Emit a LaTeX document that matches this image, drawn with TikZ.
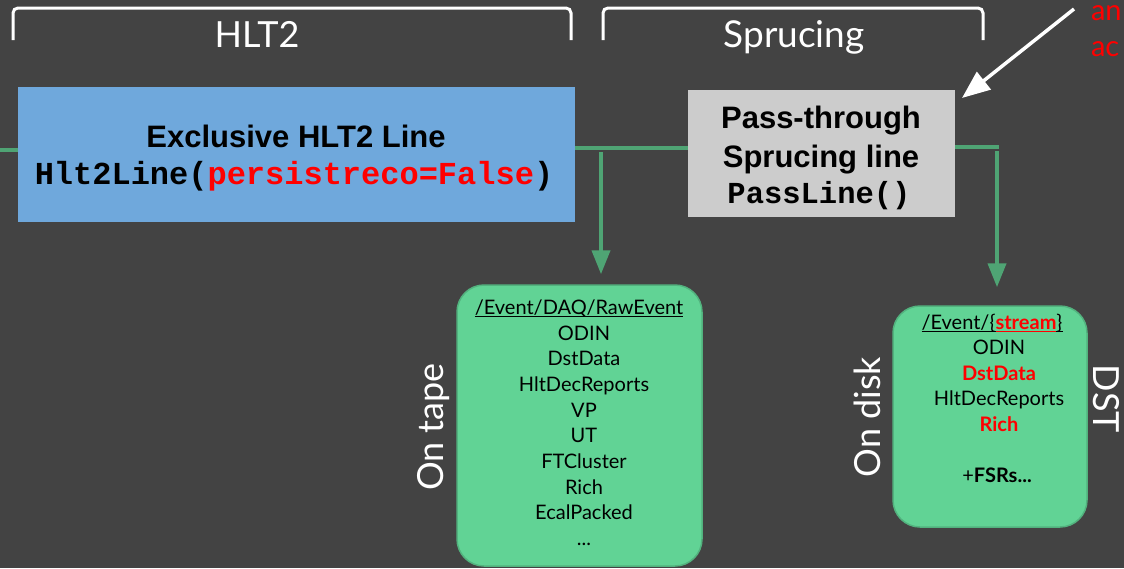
\documentclass[tikz,border=0pt]{standalone}
\usepackage{fontspec}
\usetikzlibrary{arrows.meta}
\setmainfont{Lato}
\newfontfamily\latof{Lato}
\newfontfamily\arialf{Liberation Sans}
\newfontfamily\courf{Liberation Mono}
\newcommand{\setfs}[1]{\fontsize{#1}{#1}\selectfont}
\newcommand{\myul}[1]{\setbox0\hbox{#1}\rlap{\copy0}\rule[-2.8pt]{\wd0}{0.9pt}}
\definecolor{bg}{HTML}{434343}
\definecolor{bluebox}{HTML}{6FA8DC}
\definecolor{graybox}{HTML}{CCCCCC}
\definecolor{flow}{HTML}{4FA474}
\definecolor{storefill}{HTML}{61D395}
\definecolor{storeborder}{HTML}{52B27E}
\definecolor{hot}{HTML}{FF0000}
\begin{document}
\begin{tikzpicture}[x=1pt,y=-1pt,
  txt/.style={anchor=base, inner sep=0pt, outer sep=0pt},
  lbl/.style={txt, text=white, font=\latof\setfs{36}},
  boxtitle/.style={txt, text=black, font=\arialf\bfseries\setfs{31}},
  boxcode/.style={txt, text=black, font=\courf\bfseries\setfs{32}},
  item/.style={txt, text=black, font=\latof\setfs{20}},
  flowline/.style={draw=flow, line width=4pt},
  flowarrow/.style={flowline, -{Triangle[width=18pt,length=24pt]}},
  store/.style={draw=storeborder, line width=1.5pt, fill=storefill, rounded corners=27pt, inner sep=0pt},
  bracket/.style={draw=white, line width=3pt, rounded corners=5pt},
  stepbox/.style={inner sep=0pt, outer sep=0pt}
]
\fill[bg] (0,0) rectangle (1124,568);
\path[use as bounding box] (0,0) rectangle (1124,568);

% brackets and stage labels
\draw[bracket] (13,40) -- (13,8) -- (571,8) -- (571,40);
\draw[bracket] (603,40) -- (603,8) -- (983,8) -- (983,40);
\node[lbl] (hltlbl) at (257,47) {HLT2};
\node[lbl, font=\latof\setfs{37}] (sprlbl) at (794,47) {Sprucing};

% main boxes
\node[stepbox, fill=bluebox, minimum width=557pt, minimum height=135pt] (hltbox) at (296.5,154.5) {};
\node[boxtitle] (hlttitle) at (296,147) {Exclusive HLT2 Line};
\node[boxcode] (hltcode) at (294,184) {Hlt2Line(\textcolor{hot}{persistreco=False})};

\node[stepbox, fill=graybox, minimum width=267pt, minimum height=127pt] (spbox) at (821.5,153.5) {};
\node[boxtitle] (sptitleA) at (821,128) {Pass-through};
\node[boxtitle] (sptitleB) at (821,167) {Sprucing line};
\node[boxcode, font=\courf\bfseries\setfs{30.5}] (spcode) at (819,203) {PassLine()};

% storage boxes
\node[store, minimum width=245pt, minimum height=281pt] (tape) at (579.5,425.5) {};
\node[store, minimum width=194pt, minimum height=221pt] (disk) at (990,416.5) {};

\node[item] (tapehdr) at (579,314) {\myul{/Event/DAQ/RawEvent}};
\node[item] (t1) at (584,340) {ODIN};
\node[item] (t2) at (584,365.5) {DstData};
\node[item] (t3) at (584,391) {HltDecReports};
\node[item] (t4) at (584,417) {VP};
\node[item] (t5) at (584,442.5) {UT};
\node[item] (t6) at (584,468) {FTCluster};
\node[item] (t7) at (584,494) {Rich};
\node[item] (t8) at (584,519.5) {EcalPacked};
\node[item] (t9) at (584,545) {...};

\node[item] (diskhdr) at (992,329) {\myul{/Event/\{}{\color{hot}\myul{\bfseries stream}}\myul{\}}};
\node[item] (d1) at (999,354.5) {ODIN};
\node[item, text=hot, font=\latof\bfseries\setfs{20}] (d2) at (999,380) {DstData};
\node[item] (d3) at (999,405.5) {HltDecReports};
\node[item, text=hot, font=\latof\bfseries\setfs{20}] (d4) at (999,431) {Rich};
\node[item] (d5) at (997,482) {+\textbf{FSRs...}};

\node[lbl, rotate=90] (tapelbl) at (443,427) {On tape};
\node[lbl, rotate=90] (disklbl) at (880,417) {On disk};
\node[lbl, rotate=-90] (dstlbl) at (1093,399) {DST};

% flow connectors
\coordinate (inL) at (0,150);
\draw[flowline] (inL) -- (inL -| hltbox.west);
\coordinate (j1) at (601,148);
\draw[flowline] (hltbox.east |- j1) -- (spbox.west |- j1);
\coordinate (a1) at (601,152);
\draw[flowarrow, shorten >=10pt] (a1) -- (a1 |- tape.north);
\coordinate (j2) at (999,147);
\draw[flowline] (spbox.east |- j2) -- (j2);
\coordinate (a2) at (997,151);
\draw[flowarrow, shorten >=18pt] (a2) -- (a2 |- disk.north);

% annotation
\node[txt, anchor=base west, text=hot, font=\latof\setfs{29}] (noteA) at (1091,20) {an};
\node[txt, anchor=base west, text=hot, font=\latof\setfs{29}] (noteB) at (1091,56) {ac};
\coordinate (noteStart) at (1074,9);
\coordinate (noteEnd) at (962,98);
\draw[white, line width=3.5pt, -{Triangle[width=22pt,length=28pt]}] (noteStart) -- (noteEnd);
\end{tikzpicture}
\end{document}
